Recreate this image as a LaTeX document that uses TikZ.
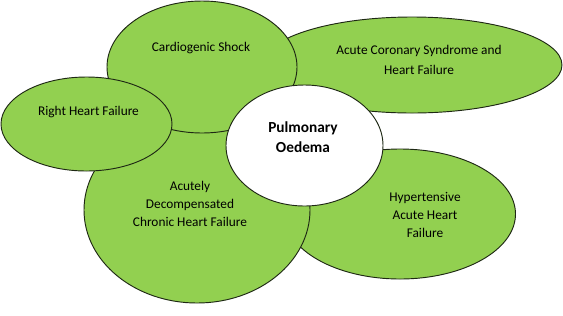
\documentclass[tikz,border=0pt]{standalone}
\usepackage{fontspec}
\setmainfont{Carlito}
\usetikzlibrary{shapes.geometric}
\definecolor{petal}{RGB}{146,208,80}
\definecolor{rim}{RGB}{30,40,20}
\begin{document}
\begin{tikzpicture}[x=0.75pt,y=-0.75pt,
  petalshape/.style={ellipse, draw=rim, line width=0.7pt, fill=petal, inner sep=0pt},
  coreshape/.style={ellipse, draw=rim, line width=0.7pt, fill=white, inner sep=0pt},
  petaltext/.style={align=center, inner sep=0pt, font=\fontsize{10}{13.5}\selectfont},
  coretext/.style={align=center, inner sep=0pt, font=\fontsize{11.5}{15}\selectfont\bfseries}]
\fill[white] (0,0) rectangle (563,315);
\useasboundingbox (0,0) rectangle (563,315);
% ellipses in stacking order
\node[petalshape, minimum width=225pt, minimum height=72pt] (acs) at (412,65) {};
\node[petalshape, minimum width=173.25pt, minimum height=97.5pt] (hyp) at (400,214) {};
\node[petalshape, minimum width=169.5pt, minimum height=139.5pt] (adc) at (197,210) {};
\node[petalshape, minimum width=142.5pt, minimum height=99pt] (cs) at (202,67) {};
\node[petalshape, minimum width=128.25pt, minimum height=70.5pt] (rhf) at (86.5,124) {};
\node[coreshape, minimum width=117.75pt, minimum height=90.75pt] (po) at (304.5,145.5) {};
% texts
\node[petaltext] (acsT) at (419,60) {Acute Coronary Syndrome and\\[1.5pt] Heart Failure};
\node[petaltext] (hypT) at (425,215) {Hypertensive\\ Acute Heart\\ Failure};
\node[petaltext] (adcT) at (190,204) {Acutely\\ Decompensated\\ Chronic Heart Failure};
\node[petaltext] (csT) at (201,48) {Cardiogenic Shock};
\node[petaltext] (rhfT) at (88.5,112) {Right Heart Failure};
\node[coretext] (poT) at (303,137) {Pulmonary\\ Oedema};
\end{tikzpicture}
\end{document}
